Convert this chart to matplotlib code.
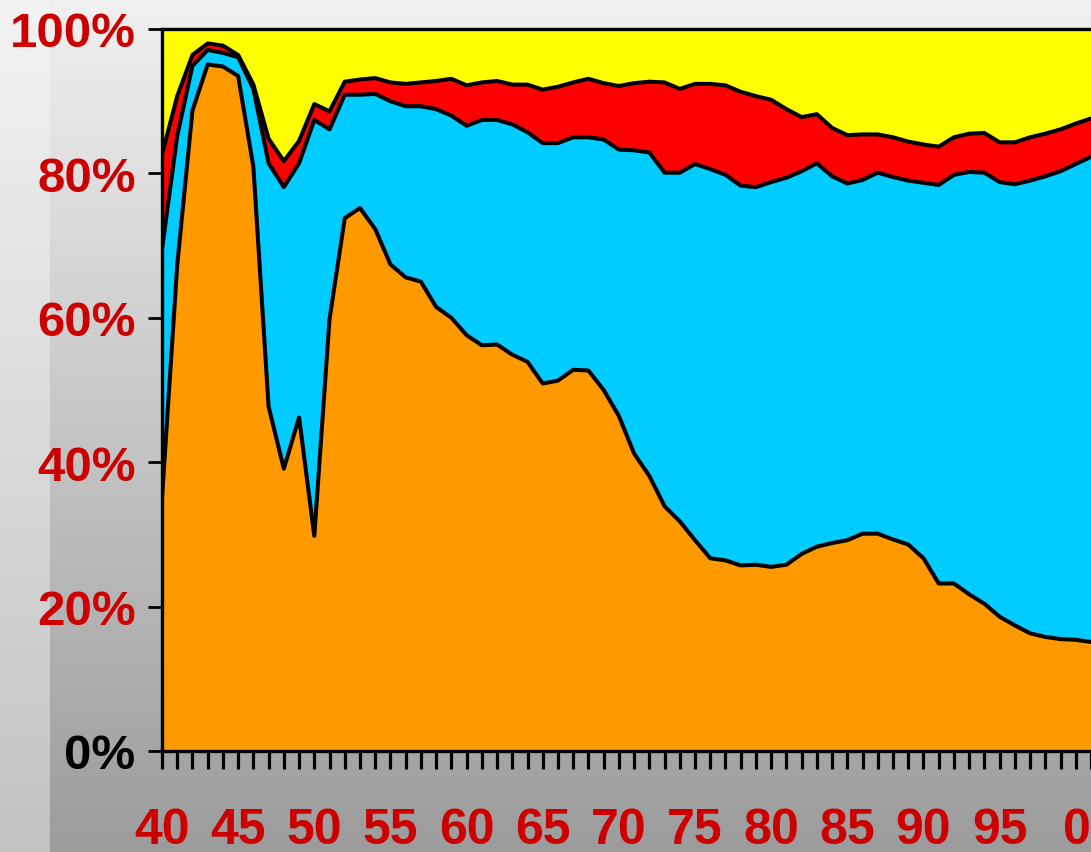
import numpy as np
import matplotlib.pyplot as plt

plt.rcParams['font.family'] = ['Liberation Sans', 'DejaVu Sans']
plt.rcParams['font.weight'] = 'bold'

years = np.arange(1940, 2002)

# upper edge of each band, cumulative percent
orange_top = [35.0, 67.3, 88.7, 95.1, 94.8, 93.5, 80.9, 47.7, 39.1, 46.2,
              29.8, 59.8, 73.8, 75.2, 72.3, 67.4, 65.6, 65.0, 61.5, 60.0,
              57.6, 56.2, 56.3, 54.9, 53.9, 50.9, 51.3, 52.8, 52.7, 50.0,
              46.4, 41.2, 38.1, 33.9, 31.8, 29.2, 26.7, 26.4, 25.7, 25.8,
              25.5, 25.8, 27.3, 28.3, 28.8, 29.2, 30.1, 30.1, 29.3, 28.6,
              26.7, 23.2, 23.2, 21.7, 20.4, 18.6, 17.4, 16.3, 15.8, 15.5,
              15.4, 15.1]
cyan_top = [69.5, 85.2, 94.9, 97.1, 96.7, 96.1, 91.7, 81.4, 78.1, 81.4,
            87.4, 86.1, 90.9, 90.9, 91.0, 90.0, 89.3, 89.3, 88.9, 88.0,
            86.6, 87.4, 87.4, 86.8, 85.7, 84.2, 84.2, 85.0, 85.0, 84.7,
            83.3, 83.2, 82.9, 80.1, 80.1, 81.3, 80.6, 79.8, 78.3, 78.1,
            78.8, 79.4, 80.3, 81.4, 79.6, 78.6, 79.1, 80.1, 79.5, 79.0,
            78.7, 78.4, 79.8, 80.2, 80.1, 78.8, 78.5, 79.0, 79.6, 80.3,
            81.3, 82.3]
red_top = [82.6, 90.7, 96.4, 98.0, 97.7, 96.4, 92.3, 84.8, 81.7, 84.5,
           89.6, 88.6, 92.7, 93.0, 93.2, 92.6, 92.4, 92.6, 92.8, 93.1,
           92.2, 92.6, 92.8, 92.3, 92.3, 91.6, 92.0, 92.6, 93.1, 92.5,
           92.1, 92.5, 92.7, 92.6, 91.7, 92.4, 92.4, 92.2, 91.3, 90.7,
           90.2, 88.9, 87.8, 88.2, 86.3, 85.3, 85.4, 85.4, 85.0, 84.4,
           84.0, 83.7, 85.0, 85.5, 85.6, 84.3, 84.3, 85.0, 85.5, 86.1,
           86.9, 87.6]

label_years = list(range(1940, 2000, 5)) + [2001]
label_text = ['40', '45', '50', '55', '60', '65', '70', '75', '80', '85',
              '90', '95', '00']

fig = plt.figure(figsize=(10.91, 8.53), dpi=100)

# grey gradient background with a lighter strip on the left
bg = fig.add_axes([0, 0, 1, 1], zorder=-1)
g = np.linspace(0, 1, 300)[:, None]
img = np.repeat(0.94 - 0.33 * g, 1091, axis=1)
img[:, :50] = 0.95 - 0.19 * g
bg.imshow(img, cmap='gray', vmin=0, vmax=1, aspect='auto', extent=[0, 1, 0, 1])
bg.axis('off')

ax = fig.add_axes([162 / 1091, 1 - 752 / 853, 1 - 162 / 1091, 722 / 853])
ax.fill_between(years, 0, orange_top, color='#FF9900', lw=0)
ax.fill_between(years, orange_top, cyan_top, color='#00CCFF', lw=0)
ax.fill_between(years, cyan_top, red_top, color='#FF0000', lw=0)
ax.fill_between(years, red_top, 100, color='#FFFF00', lw=0)
for edge in (orange_top, cyan_top, red_top):
    ax.plot(years, edge, color='black', lw=2.9)

ax.set_xlim(1940, 2001)
ax.set_ylim(0, 100)
ax.spines['right'].set_visible(False)
for s in ('left', 'top', 'bottom'):
    ax.spines[s].set_linewidth(2.4)
    ax.spines[s].set_zorder(5)

ax.set_yticks(range(0, 101, 20), labels=[f'{v}%' for v in range(0, 101, 20)])
ax.tick_params(axis='y', length=10, width=2, pad=9, labelsize=35.5,
               labelcolor='#CC0000')
ax.get_yticklabels()[0].set_color('black')

xt = [label_text[label_years.index(y)] if y in label_years else '' for y in years]
ax.set_xticks(years, labels=xt)
ax.tick_params(axis='x', length=13, width=2.3, pad=27, labelsize=36,
               labelcolor='#CC0000')

fig.savefig('out.png', dpi=100)
